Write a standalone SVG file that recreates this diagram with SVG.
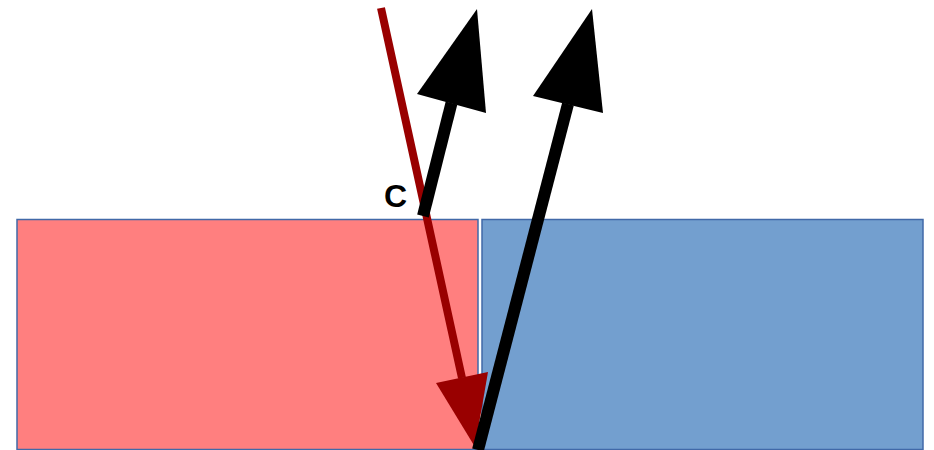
<svg xmlns="http://www.w3.org/2000/svg" width="934" height="450" viewBox="0 0 934 450">
<style>
.box{stroke:#4169a8;stroke-width:1.5}
.red{stroke:#990000;stroke-width:8;fill:none}
.blk{stroke:#000;stroke-width:12;fill:none}
.txt{font-family:"Liberation Sans",Arial,sans-serif;font-size:32px;font-weight:bold;fill:#000}
</style>
<rect width="934" height="450" fill="#fff"/>
<g id="left-block"><rect class="box" x="17" y="219.5" width="461" height="230" fill="#ff7f7f"/></g>
<g id="right-block"><rect class="box" x="482" y="219.5" width="441" height="230" fill="#739fcf"/></g>
<g id="connectors">
<g id="incident">
<line class="red" x1="381" y1="8" x2="462" y2="378"/>
<polygon points="436,383 488,372 475,447" fill="#990000"/>
</g>
<g id="reflected">
<line class="blk" x1="423" y1="216" x2="451.5" y2="103"/>
<polygon points="417,94 486,113 477,9" fill="#000"/>
</g>
<g id="refracted">
<line class="blk" x1="478" y1="450" x2="568" y2="104"/>
<polygon points="533,96 603,113 592,9" fill="#000"/>
</g>
</g>
<g id="label-c"><text class="txt" x="384" y="207">C</text></g>
</svg>
